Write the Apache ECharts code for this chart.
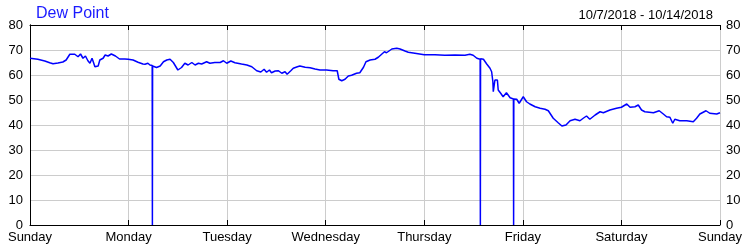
<!DOCTYPE html>
<html>
<head>
<meta charset="utf-8">
<script src="https://cdn.jsdelivr.net/npm/echarts@6/dist/echarts.min.js"></script>
<style>
html,body{margin:0;padding:0;background:#fff;}
#chart{width:750px;height:250px;}
</style>
</head>
<body>
<div id="chart"></div>
<script>
// Hours since Sunday 00:00
var hours = [
  0,1.9,3.6,4.8,5.6,6.8,8.0,8.8,9.7,10.9,11.7,12.3,12.9,13.5,14.1,14.6,15.1,15.4,15.8,16.6,17.0,17.8,18.3,19.0,19.8,20.8,21.8,23.1,23.9,25.1,26.3,27.5,28.0,28.7,29.2,29.75,29.8,29.85,
  30.8,31.7,32.5,33.3,34.1,34.9,36.0,36.9,37.7,38.5,39.4,40.2,41.0,41.8,43.0,43.8,45.0,46.3,47.1,47.9,48.9,49.9,51.5,52.8,54.0,55.2,56.2,57.0,57.6,58.3,58.8,59.7,60.5,61.3,62.1,62.6,63.5,64.1,65.1,65.7,67.0,68.2,69.4,70.6,72.2,73.8,74.8,75.2,75.9,76.7,77.5,78.3,79.5,80.3,81.2,81.8,82.8,84.0,84.8,86.3,86.8,88.1,89.3,90.1,91.3,92.1,93.7,96.0,98.6,101.0,103.5,105.9,107.1,107.9,108.8,109.6,109.65,109.7,
  110.4,111.2,112.0,112.4,112.7,112.8,113.2,113.8,114.0,114.6,115.2,116.0,116.9,117.7,117.75,117.8,118.5,119.1,120.1,120.9,121.7,123.0,124.2,125.4,126.2,126.6,127.4,128.6,129.5,130.5,131.5,132.7,133.9,134.7,135.5,136.3,137.6,138.8,139.6,141.2,142.8,144.0,145.3,146.1,147.3,148.1,148.9,149.7,151.8,153.2,154.2,155.0,155.8,156.5,157.0,158.2,159.9,161.5,162.3,163.1,164.6,165.5,167.2,168.0
];
var dewPoint = [
  66.7,66.3,65.6,64.9,64.5,64.8,65.2,66.0,68.3,68.3,67.3,68.4,66.7,67.6,65.7,64.7,66.7,65.3,63.3,63.6,66.0,66.7,68.0,67.6,68.4,67.6,66.4,66.4,66.3,66.0,65.1,64.4,64.3,64.7,64.0,63.8,0,63.6,
  63.0,63.6,65.3,66.0,66.3,65.0,62.0,63.0,64.7,64.0,65.0,64.0,64.7,64.4,65.3,64.7,65.0,65.0,65.7,64.7,65.6,64.9,64.4,64.0,63.3,61.7,61.2,62.3,61.1,62.0,60.9,61.6,61.7,60.7,61.3,60.3,61.7,62.7,63.3,63.6,63.1,62.9,62.4,62.0,62.0,61.7,61.7,58.3,57.7,58.3,59.6,59.9,60.7,60.9,63.1,65.3,66.0,66.3,67.1,69.3,68.9,70.4,70.7,70.4,69.6,69.1,68.7,68.1,68.1,67.9,68.0,67.9,68.3,67.9,66.7,66.3,0,66.5,
  66.3,64.4,62.7,61.3,57.3,53.3,58.0,58.0,54.0,52.7,51.3,52.9,50.9,50.4,0,50.4,50.3,48.7,51.3,49.3,48.4,47.3,46.7,46.3,45.7,45.3,42.7,40.9,39.6,40.0,41.7,42.3,41.7,42.7,43.6,42.3,44.0,45.3,44.9,46.0,46.7,47.1,48.4,47.1,47.3,48.0,46.0,45.3,44.9,45.7,44.4,43.3,43.1,40.7,42.3,41.7,41.7,41.3,42.7,44.4,45.7,44.7,44.4,44.9
];
var dayLabels = ['Sunday','Monday','Tuesday','Wednesday','Thursday','Friday','Saturday','Sunday'];
var titleText = 'Dew Point';
var dateRange = '10/7/2018 - 10/14/2018';

var seriesData = hours.map(function(h, i){ return [h, dewPoint[i]]; });
var font = 'Liberation Sans, Arial, sans-serif';
var chart = echarts.init(document.getElementById('chart'), null, {renderer:'canvas'});
chart.setOption({
  animation:false,
  backgroundColor:'#fff',
  title:[
    {text:titleText, left:31, top:1, textStyle:{color:'#1a1aff', fontSize:16, fontWeight:'normal', fontFamily:font}},
    {text:dateRange, right:32, top:4, textStyle:{color:'#000', fontSize:13, fontWeight:'normal', fontFamily:font}}
  ],
  grid:{left:30, right:30, top:25, bottom:25, containLabel:false},
  xAxis:[
    {type:'value', min:0, max:168, interval:24, position:'bottom',
     axisLine:{show:true, onZero:false, lineStyle:{color:'#000', width:1}},
     axisTick:{show:true, inside:true, length:5, lineStyle:{color:'#000'}},
     axisLabel:{color:'#000', fontSize:13, fontFamily:font, margin:6, formatter:function(v){return dayLabels[Math.round(v/24)];}},
     splitLine:{show:true, lineStyle:{color:'#cccccc', width:1}}},
    {type:'value', min:0, max:168, interval:24, position:'top',
     axisLine:{show:true, onZero:false, lineStyle:{color:'#000', width:1}},
     axisTick:{show:true, inside:true, length:5, lineStyle:{color:'#000'}},
     axisLabel:{show:false}, splitLine:{show:false}}
  ],
  yAxis:[
    {type:'value', min:0, max:80, interval:10, position:'left',
     axisLine:{show:true, lineStyle:{color:'#000', width:1}},
     axisTick:{show:false},
     axisLabel:{color:'#000', fontSize:13, fontFamily:font, margin:7},
     splitLine:{show:true, lineStyle:{color:'#cccccc', width:1}}},
    {type:'value', min:0, max:80, interval:10, position:'right',
     axisLine:{show:true, lineStyle:{color:'#000', width:1}},
     axisTick:{show:false},
     axisLabel:{color:'#000', fontSize:13, fontFamily:font, margin:6},
     splitLine:{show:false}}
  ],
  series:[{
    type:'line', data:seriesData, xAxisIndex:0, yAxisIndex:0,
    showSymbol:false, symbol:'none',
    lineStyle:{color:'#0000ff', width:1.5},
    z:3
  }]
});
</script>
</body>
</html>
